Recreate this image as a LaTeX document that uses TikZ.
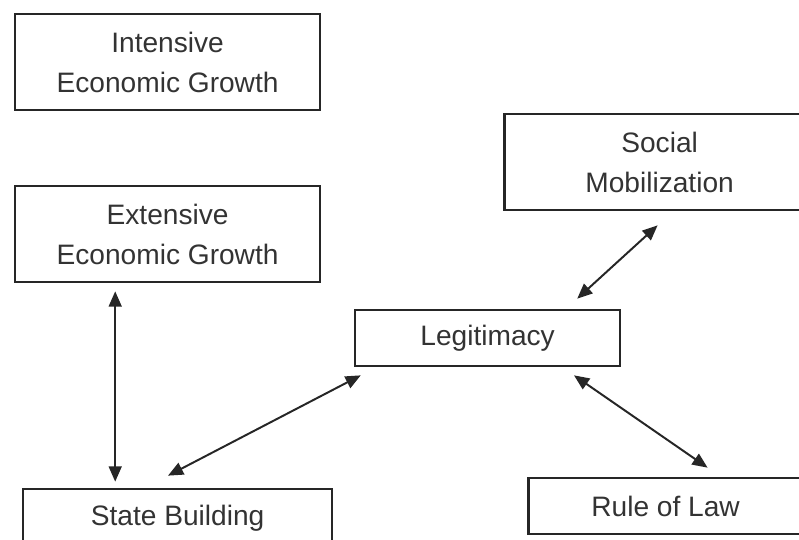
\documentclass[tikz,border=0pt]{standalone}
\usepackage{fontspec}
\setmainfont{Liberation Sans}
\usepackage{xcolor}
\usepackage{tikz}
\usetikzlibrary{arrows.meta, positioning, calc}
\definecolor{boxline}{HTML}{262626}
\definecolor{textgray}{HTML}{333333}
\tikzstyle{block} = [rectangle, draw=boxline, line width=1.9pt, text=textgray, align=center, inner sep=0pt, font=\fontsize{20}{28.5}\selectfont]
\tikzstyle{tall} = [block, minimum width=7.625cm, minimum height=2.4cm]
\tikzstyle{flat} = [block, minimum height=1.4cm]
\tikzstyle{arrow} = [line width=1.4pt, draw=boxline, {Triangle[length=3.8mm,width=3.2mm]}-{Triangle[length=3.8mm,width=3.2mm]}]
\begin{document}
\begin{tikzpicture}[node distance=4.3cm]
        \useasboundingbox (0,0) rectangle (19.975,13.475);
        \clip (0,0) rectangle (19.975,13.475);

        % Nodes
        \node (intensive) [tall] at (4.19,11.925) {Intensive\\Economic Growth};

        \node (extensive) [tall, below of=intensive] {Extensive\\Economic Growth};

        \node (state) [flat, minimum width=7.725cm, minimum height=1.45cm, below of=extensive, xshift=0.25cm, yshift=-2.8cm] {State Building};

        \node (legit) [flat, minimum width=6.625cm, right of=extensive, xshift=3.7cm, yshift=-2.6cm] {Legitimacy};

        \node (social) [tall, minimum width=7.75cm, right of=legit, yshift=4.4cm] {Social\\Mobilization};

        \node (law) [flat, minimum width=6.85cm, right of=legit, xshift=0.15cm, yshift=-4.2cm] {Rule of Law};

        % Arrows
        \draw [arrow] ([xshift=-1.31cm,yshift=-0.2cm]extensive.south) -- ([xshift=-1.31cm,yshift=0.15cm]extensive.south |- state.north);
        \draw [arrow] ([xshift=-0.24cm,yshift=0.3cm]state.north) -- ([xshift=0.175cm,yshift=-0.2cm]legit.south west);
        \draw [arrow] ([xshift=2.24cm,yshift=0.25cm]legit.north) -- ([xshift=-0.05cm,yshift=-0.35cm]social.south);
        \draw [arrow] ([xshift=2.16cm,yshift=-0.2cm]legit.south) -- ([xshift=1.05cm,yshift=0.225cm]law.north);

    \end{tikzpicture}
\end{document}
